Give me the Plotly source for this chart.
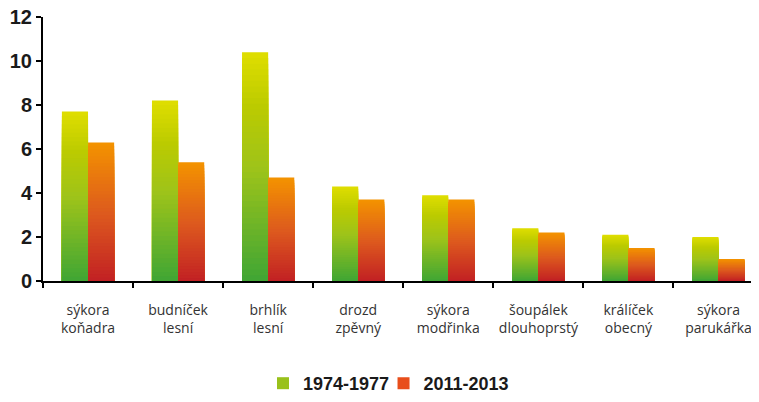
import plotly.graph_objects as go

categories = ["sýkora<br>koňadra", "budníček<br>lesní", "brhlík<br>lesní", "drozd<br>zpěvný",
              "sýkora<br>modřinka", "šoupálek<br>dlouhoprstý", "králíček<br>obecný", "sýkora<br>parukářka"]
series_names = ["1974-1977", "2011-2013"]
values_old = [7.7, 8.2, 10.4, 4.3, 3.9, 2.4, 2.1, 2.0]
values_new = [6.3, 5.4, 4.7, 3.7, 3.7, 2.2, 1.5, 1.0]
y_ticks = [0, 2, 4, 6, 8, 10, 12]

legend_colors = ["#99C11B", "#E84E1B"]
# gradient stops (fraction of bar height -> colour), bottom to top
grad_old = [(0.0, (61, 165, 53)), (0.5, (157, 195, 26)), (0.78, (188, 203, 0)), (1.0, (222, 221, 0))]
grad_new = [(0.0, (193, 31, 36)), (0.5, (221, 90, 30)), (1.0, (243, 146, 0))]

def interp(stops, f):
    for (f0, c0), (f1, c1) in zip(stops[:-1], stops[1:]):
        if f0 <= f <= f1:
            t = (f - f0) / (f1 - f0) if f1 > f0 else 0
            c = [round(a + (b - a) * t) for a, b in zip(c0, c1)]
            return f"rgb({c[0]},{c[1]},{c[2]})"
    c = stops[-1][1]
    return f"rgb({c[0]},{c[1]},{c[2]})"

N = 40
fig = go.Figure()
for name, vals, stops, lc, lg in [(series_names[0], values_old, grad_old, legend_colors[0], "legend"),
                                  (series_names[1], values_new, grad_new, legend_colors[1], "legend2")]:
    for k in range(N):
        f = 1 - k / N
        fig.add_trace(go.Bar(
            x=categories, y=[v * f for v in vals], offsetgroup=name,
            marker=dict(color=interp(stops, f), line=dict(width=0)),
            showlegend=False, hoverinfo="skip"))
    fig.add_trace(go.Bar(
        x=categories, y=[0] * len(categories), offsetgroup=name, name=name, legend=lg,
        marker=dict(color=lc, line=dict(width=0)), showlegend=True))

legend_font = dict(family="Liberation Sans", size=18, color="#1a1a1a", weight="bold")

# the page body adds an 8px margin, so the figure is sized/placed to compensate
fig.update_layout(
    width=751, height=394,
    margin=dict(l=35, r=0, t=9, b=113),
    plot_bgcolor="white", paper_bgcolor="white",
    barmode="group", bargap=0.42, bargroupgap=0,
    showlegend=True,
    legend=dict(orientation="h", x=0.3073, xanchor="left", y=-0.39, yanchor="middle",
                font=legend_font, bgcolor="rgba(0,0,0,0)"),
    legend2=dict(orientation="h", x=0.4756, xanchor="left", y=-0.39, yanchor="middle",
                 font=legend_font, bgcolor="rgba(0,0,0,0)"),
    xaxis=dict(showline=True, linecolor="black", linewidth=2, ticks="outside",
               tickson="boundaries", ticklen=5, tickwidth=2, tickcolor="black",
               range=[-0.5, 7.45], automargin=False, ticklabelstandoff=15, tickangle=0,
               tickfont=dict(family="Open Sans", size=14, color="#333333"),
               showgrid=False, zeroline=False),
    yaxis=dict(range=[0, 12], tickvals=y_ticks, showline=True, linecolor="black", linewidth=2,
               ticks="outside", ticklen=5, tickwidth=2, tickcolor="black", automargin=False,
               ticklabeloverflow="allow",
               tickfont=dict(family="Liberation Sans", size=20, color="#1a1a1a", weight="bold"),
               showgrid=False, zeroline=False),
)

fig.write_html("out.html")
